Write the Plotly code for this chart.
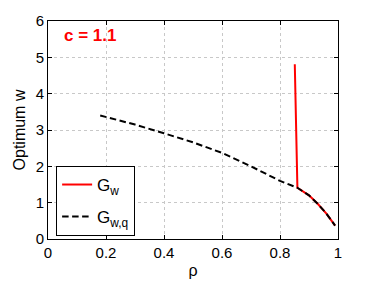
import plotly.graph_objects as go

# Data
rho_q = [0.18, 0.3, 0.4, 0.5, 0.6, 0.7, 0.8, 0.86, 0.9, 0.93, 0.96, 0.98, 0.99]
w_q = [3.40, 3.15, 2.91, 2.66, 2.37, 2.00, 1.60, 1.41, 1.20, 0.97, 0.70, 0.50, 0.37]

rho_w = [0.851, 0.86, 0.9, 0.93, 0.96, 0.98, 0.99]
w_w = [4.81, 1.41, 1.20, 0.97, 0.70, 0.50, 0.37]

x_ticks = [0, 0.2, 0.4, 0.6, 0.8, 1]
x_tick_labels = ["0", "0.2", "0.4", "0.6", "0.8", "1"]
y_ticks = [0, 1, 2, 3, 4, 5, 6]

FONT = "Liberation Sans, Arial, Helvetica, sans-serif"

fig = go.Figure()
fig.add_trace(go.Scatter(x=rho_w, y=w_w, mode="lines", name="G<sub>w</sub>",
                         legendgroup="a",
                         line=dict(color="#ff0000", width=2)))
fig.add_trace(go.Scatter(x=rho_q, y=w_q, mode="lines", name="G<sub>w,q</sub>",
                         legendgroup="b",
                         line=dict(color="black", width=2, dash="6.5px,3.5px")))

axis_common = dict(
    showline=True, linecolor="black", linewidth=1, mirror="allticks",
    ticks="inside", ticklen=4, tickcolor="black",
    showgrid=True, gridcolor="#c8c8c8", griddash="dot", gridwidth=1,
    zeroline=False, automargin=False,
    tickfont=dict(family=FONT, size=15, color="black"),
)

fig.update_xaxes(range=[0, 1], tickvals=x_ticks, ticktext=x_tick_labels,
                 title=dict(text="ρ", font=dict(family=FONT, size=16, color="black"), standoff=4),
                 **axis_common)
fig.update_yaxes(range=[0, 6], tickvals=y_ticks,
                 title=dict(text="Optimum w", font=dict(family=FONT, size=16, color="black"), standoff=6),
                 **axis_common)

fig.add_annotation(text="<b>c = 1.1</b>", xref="paper", yref="paper", x=0.047, y=0.935,
                   xanchor="left", yanchor="middle", showarrow=False,
                   font=dict(family=FONT, size=17, color="#ff0000"))

fig.update_layout(
    width=374, height=281,
    margin=dict(l=40, r=44, t=13, b=50, autoexpand=False),
    paper_bgcolor="white", plot_bgcolor="white",
    showlegend=True,
    legend=dict(x=0.028, y=0.335, xanchor="left", yanchor="top",
                bgcolor="white", bordercolor="black", borderwidth=1,
                font=dict(family=FONT, size=17, color="black"),
                itemwidth=30, tracegroupgap=7),
)

fig.write_html("out.html")
